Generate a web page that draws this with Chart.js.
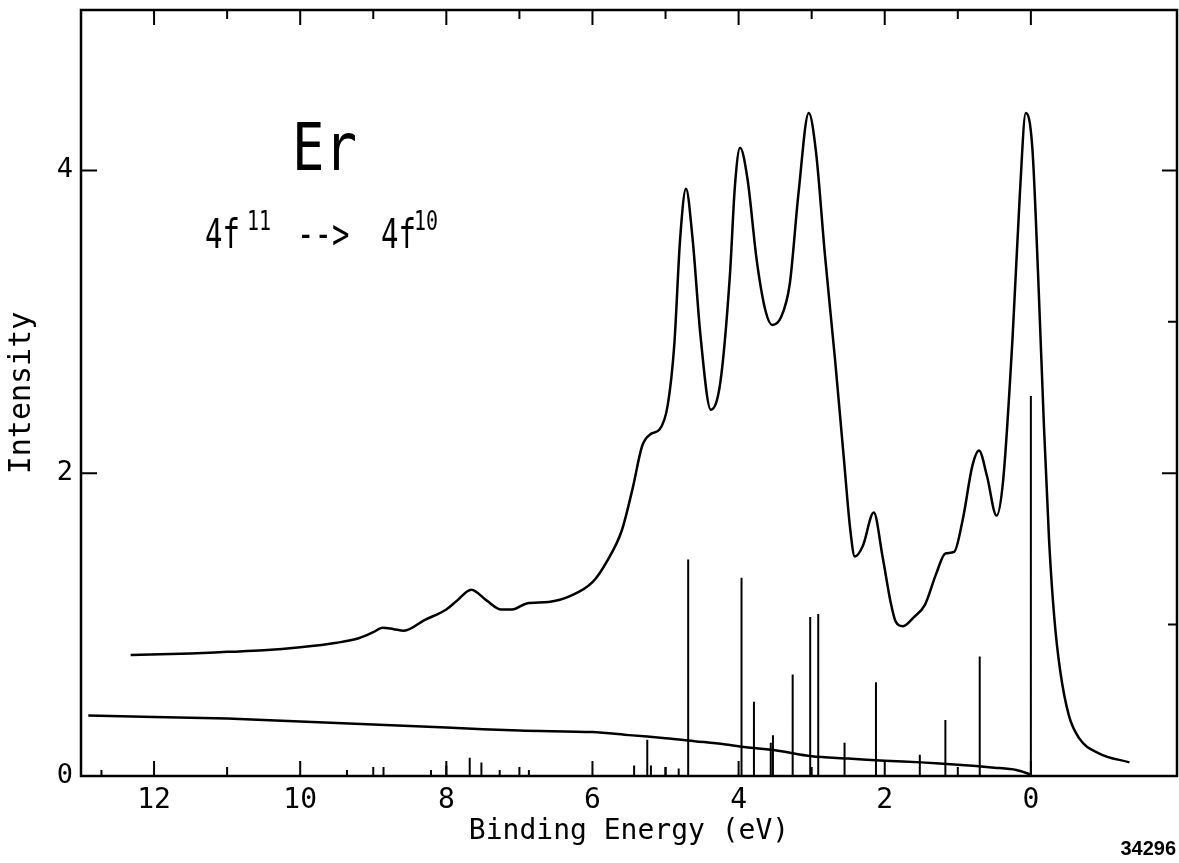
<!DOCTYPE html>
<html>
<head>
<meta charset="utf-8">
<script src="https://cdn.jsdelivr.net/npm/chart.js@4.4.0/dist/chart.umd.min.js"></script>
<style>
  html, body { margin: 0; padding: 0; background: #fff; }
  #wrap { width: 1179px; height: 863px; position: relative; }
</style>
</head>
<body>
<div id="wrap"><canvas id="spectrum"></canvas></div>
<script>
// Er 4f11 -> 4f10 photoemission spectrum (binding energy in eV, axis reversed)
const energy = [12.32, 11.5, 11.0, 10.5, 10.0, 9.5, 9.2, 9.0, 8.87, 8.72, 8.58, 8.3, 8.0, 7.85, 7.66,
  7.45, 7.25, 7.1, 6.9, 6.6, 6.3, 6.0, 5.8, 5.6, 5.45, 5.32, 5.2, 5.08, 4.97, 4.88, 4.80, 4.72,
  4.63, 4.52, 4.38, 4.25, 4.12, 4.05, 3.98, 3.88, 3.75, 3.63, 3.54, 3.42, 3.30, 3.18, 3.04,
  2.94, 2.82, 2.68, 2.56, 2.47, 2.41, 2.30, 2.15, 2.03, 1.92, 1.85, 1.75, 1.60, 1.45, 1.30,
  1.17, 1.05, 0.93, 0.80, 0.71, 0.60, 0.47, 0.38, 0.25, 0.15, 0.07, -0.02, -0.10, -0.18,
  -0.25, -0.32, -0.40, -0.52, -0.66, -0.93, -1.35];
const intensity = [0.80, 0.81, 0.82, 0.83, 0.85, 0.88, 0.91, 0.95, 0.98, 0.97, 0.96, 1.03, 1.10, 1.16, 1.23,
  1.16, 1.10, 1.10, 1.14, 1.15, 1.19, 1.28, 1.42, 1.62, 1.90, 2.18, 2.26, 2.29, 2.45, 2.85, 3.55, 3.88,
  3.55, 2.90, 2.42, 2.60, 3.30, 3.90, 4.15, 3.95, 3.40, 3.07, 2.98, 3.03, 3.25, 3.85, 4.38,
  4.12, 3.45, 2.75, 2.10, 1.62, 1.45, 1.52, 1.74, 1.45, 1.15, 1.02, 0.99, 1.05, 1.13, 1.33,
  1.47, 1.48, 1.70, 2.05, 2.15, 1.98, 1.72, 1.95, 2.90, 3.85, 4.38, 4.15, 3.30, 2.30,
  1.55, 1.05, 0.70, 0.40, 0.25, 0.15, 0.09];

// background (inelastic) curve
const bgEnergy = [12.9, 12.0, 11.0, 10.0, 9.0, 8.0, 7.0, 6.0, 5.5, 5.0, 4.6, 4.2, 3.9, 3.5, 3.0,
  2.5, 2.0, 1.5, 1.0, 0.5, 0.2, 0.0];
const bgIntensity = [0.40, 0.39, 0.38, 0.36, 0.34, 0.32, 0.30, 0.29, 0.27, 0.25, 0.23, 0.21, 0.19, 0.17, 0.13,
  0.115, 0.10, 0.09, 0.075, 0.055, 0.04, 0.01];

// multiplet line positions and strengths
const stickEnergy = [12.72, 9.36, 8.86, 8.21, 8.0, 7.68, 7.52, 7.27, 6.87, 5.43, 5.25, 5.2, 5.0, 4.82,
  4.69, 3.96, 3.79, 3.56, 3.53, 3.26, 3.02, 2.91, 2.55, 2.12, 1.52, 1.17, 0.70, 0.0];
const stickHeight = [0.04, 0.04, 0.06, 0.04, 0.07, 0.12, 0.09, 0.04, 0.04, 0.07, 0.24, 0.07, 0.06, 0.05,
  1.43, 1.31, 0.49, 0.22, 0.27, 0.67, 1.05, 1.07, 0.22, 0.62, 0.14, 0.37, 0.79, 2.51];

const xTickLabels = [12, 10, 8, 6, 4, 2, 0];
const yTickLabels = [0, 2, 4];

const FONT = "'DejaVu Sans Mono', 'Liberation Mono', monospace";

const spectrumPoints = energy.map((e, i) => ({ x: e, y: intensity[i] }));
const backgroundPoints = bgEnergy.map((e, i) => ({ x: e, y: bgIntensity[i] }));
const stickPoints = stickEnergy.flatMap((e, i) => [
  { x: e, y: 0 }, { x: e, y: stickHeight[i] }, { x: e, y: null }
]);

// drop the extra room Chart.js keeps for half-labels at the scale ends
function noEndPadding(scale) {
  scale.paddingTop = 0;
  scale.paddingBottom = 0;
  scale.paddingLeft = 0;
  scale.paddingRight = 0;
}

// draws the box, the inward tick marks and the text written on the plot
const framePlugin = {
  id: 'frameAndNotes',
  afterDraw(chart) {
    const { ctx, chartArea: a, scales: { x, y } } = chart;
    ctx.save();
    ctx.strokeStyle = '#000';
    ctx.lineWidth = 2.5;
    ctx.strokeRect(a.left, a.top, a.right - a.left, a.bottom - a.top);

    ctx.lineWidth = 2;
    ctx.beginPath();
    for (let v = 0; v <= 12; v++) {
      const px = x.getPixelForValue(v);
      const len = v % 2 === 0 ? 15 : 9;
      ctx.moveTo(px, a.bottom); ctx.lineTo(px, a.bottom - len);
      ctx.moveTo(px, a.top); ctx.lineTo(px, a.top + len);
    }
    for (let v = 1; v <= 4; v++) {
      const py = y.getPixelForValue(v);
      const len = v % 2 === 0 ? 15 : 9;
      if (v % 2 === 0) { ctx.moveTo(a.left, py); ctx.lineTo(a.left + 16, py); }
      ctx.moveTo(a.right, py); ctx.lineTo(a.right - len, py);
    }
    ctx.stroke();

    ctx.fillStyle = '#000';
    ctx.textBaseline = 'alphabetic';
    const tall = (text, size, px, py, sy) => {
      ctx.save();
      ctx.translate(px, py);
      ctx.scale(1, sy);
      ctx.font = size + 'px ' + FONT;
      ctx.fillText(text, 0, 0);
      ctx.restore();
    };
    tall('Er', 54, 292, 170, 1.22);
    tall('4f', 29, 205, 248, 1.4);
    tall('11', 20, 247, 230, 1.37);
    tall('-->', 29, 297, 248, 1.4);
    tall('4f', 29, 381, 248, 1.4);
    tall('10', 20, 414, 230, 1.37);

    ctx.font = 'bold 20px "Liberation Sans", Arial, sans-serif';
    ctx.textAlign = 'right';
    ctx.fillText('34296', 1176, 855);
    ctx.restore();
  }
};

new Chart(document.getElementById('spectrum'), {
  type: 'line',
  data: {
    datasets: [
      {
        label: 'Spectrum',
        data: spectrumPoints,
        borderColor: '#000',
        borderWidth: 2.5,
        pointRadius: 0,
        cubicInterpolationMode: 'monotone'
      },
      {
        label: 'Background',
        data: backgroundPoints,
        borderColor: '#000',
        borderWidth: 2.5,
        pointRadius: 0,
        tension: 0.3
      },
      {
        label: 'Multiplet lines',
        data: stickPoints,
        borderColor: '#000',
        borderWidth: 2,
        pointRadius: 0,
        tension: 0,
        spanGaps: false
      }
    ]
  },
  options: {
    responsive: true,
    maintainAspectRatio: false,
    animation: false,
    layout: { padding: { left: 0, right: 2, top: 10, bottom: 0 } },
    plugins: {
      legend: { display: false },
      tooltip: { enabled: false }
    },
    scales: {
      x: {
        type: 'linear',
        reverse: true,
        min: -2,
        max: 13,
        grid: { display: false, drawTicks: false },
        border: { display: false },
        afterFit(scale) { scale.height = 87; noEndPadding(scale); },
        ticks: {
          stepSize: 1,
          autoSkip: false,
          maxRotation: 0,
          padding: 8,
          color: '#000',
          font: { family: FONT, size: 28 },
          callback: (v) => xTickLabels.includes(v) ? String(v) : ''
        },
        title: {
          display: true,
          text: 'Binding Energy (eV)',
          color: '#000',
          font: { family: FONT, size: 28 },
          padding: { top: 0, bottom: 14 }
        }
      },
      y: {
        type: 'linear',
        min: 0,
        max: 5.06,
        grid: { display: false, drawTicks: false },
        border: { display: false },
        afterFit(scale) { scale.width = 81; noEndPadding(scale); },
        ticks: {
          stepSize: 1,
          autoSkip: false,
          padding: 8,
          color: '#000',
          font: { family: FONT, size: 27 },
          callback: (v) => yTickLabels.includes(v) ? String(v) : ''
        },
        title: {
          display: true,
          text: 'Intensity',
          color: '#000',
          font: { family: FONT, size: 30 },
          padding: { top: 4, bottom: 0 }
        }
      }
    }
  },
  plugins: [framePlugin]
});
</script>
</body>
</html>
